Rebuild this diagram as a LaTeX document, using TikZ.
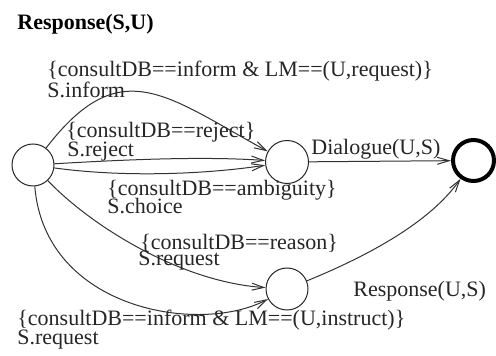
\documentclass[tikz,border=0pt]{standalone}
\usepackage{fontspec}
\setmainfont{Liberation Serif}
\usetikzlibrary{arrows.meta}
\begin{document}
\begin{tikzpicture}[x=0.5pt,y=-0.5pt,
  state/.style={draw=black!85,line width=0.5pt,circle,minimum size=21pt,inner sep=0pt},
  final/.style={draw=black,line width=2pt,circle,minimum size=20.5pt,inner sep=0pt},
  lbl/.style={anchor=base west,inner sep=0pt,font=\fontsize{11}{13}\selectfont,text=black!85},
  conn/.style={draw=black!80,line width=0.5pt,-{Straight Barb[length=6pt,width=3.5pt]}}]
\fill[white] (0,0) rectangle (496,356);
\useasboundingbox (0,0) rectangle (496,356);

% states
\node[state] (s0) at (33,165) {};
\node[state,minimum size=21.5pt] (s1) at (287,162) {};
\node[state] (s2) at (287,289) {};
\node[final] (s3) at (473.5,160.5) {};

% title
\node[lbl,font=\fontsize{11}{13}\selectfont\bfseries,text=black] (title) at (17,30) {Response(S,U)};

% connectors
\draw[conn] (s0) .. controls (120,52) and (165,95) .. (s1);
\draw[conn] (s0) .. controls (120,160) and (200,156) .. (s1);
\draw[conn] (s0) .. controls (120,177) and (200,175) .. (s1);
\draw[conn] (s0) .. controls (90,225) and (180,282) .. (s2);
\draw[conn] (s0) .. controls (45,310) and (200,335) .. (s2);
\draw[conn] (s1) -- (s3);
\draw[conn] (s2) .. controls (370,255) and (430,222) .. (s3);

% labels
\node[lbl] (l1a) at (47,77) {\{consultDB==inform \& LM==(U,request)\}};
\node[lbl] (l1b) at (47,98) {S.inform};
\node[lbl] (l2a) at (66,138) {\{consultDB==reject\}};
\node[lbl] (l2b) at (67,157) {S.reject};
\node[lbl] (l3a) at (107,196) {\{consultDB==ambiguity\}};
\node[lbl] (l3b) at (107,214) {S.choice};
\node[lbl] (l4a) at (140,250) {\{consultDB==reason\}};
\node[lbl] (l4b) at (138,266) {S.request};
\node[lbl] (l5a) at (17,326) {\{consultDB==inform \& LM==(U,instruct)\}};
\node[lbl] (l5b) at (17,345) {S.request};
\node[lbl] (l6) at (311,155) {Dialogue(U,S)};
\node[lbl] (l7) at (353,297) {Response(U,S)};
\end{tikzpicture}
\end{document}
